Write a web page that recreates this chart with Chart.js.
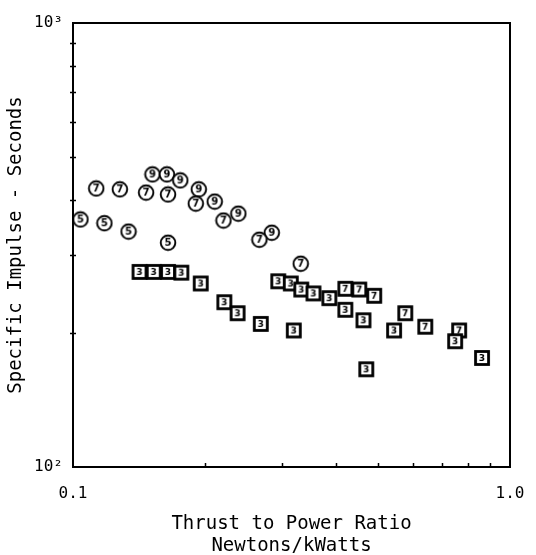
<!DOCTYPE html>
<html>
<head>
<meta charset="utf-8">
<script src="https://cdn.jsdelivr.net/npm/chart.js@4.4.0/dist/chart.umd.min.js"></script>
<style>
html, body { margin: 0; padding: 0; background: #fff; }
</style>
</head>
<body>
<canvas id="myChart" width="536" height="555"></canvas>
<script>
// circles marked 5
var c5X = [0.104, 0.118, 0.134, 0.165];
var c5Y = [361, 354, 339, 320];
// circles marked 7
var c7X = [0.113, 0.128, 0.147, 0.165, 0.191, 0.221, 0.267, 0.332];
var c7Y = [424, 422, 415, 411, 392, 359, 325, 287];
// circles marked 9
var c9X = [0.152, 0.164, 0.176, 0.194, 0.211, 0.239, 0.285];
var c9Y = [456, 456, 442, 422, 396, 372, 337];
// squares marked 3
var s3X = [0.142, 0.153, 0.165, 0.177, 0.196, 0.222, 0.238, 0.269, 0.320, 0.295, 0.315, 0.333, 0.355, 0.386, 0.420, 0.462, 0.469, 0.543, 0.749, 0.863];
var s3Y = [275, 275, 275, 274, 259, 235, 222, 210, 203, 262, 259, 251, 246, 240, 226, 214, 166, 203, 192, 176];
// squares marked 7
var s7X = [0.420, 0.452, 0.489, 0.576, 0.640, 0.765];
var s7Y = [252, 251, 243, 222, 207, 203];

var xTickValues = [0.1, 1];
var xTickLabels = ['0.1', '1.0'];
var yTickValues = [100, 1000];
var yTickLabels = ['10\u00b2', '10\u00b3'];
var xMinorTicks = [0.2, 0.3, 0.4, 0.5, 0.6, 0.7, 0.8, 0.9];
var yMinorTicks = [200, 300, 400, 500, 600, 700, 800, 900];

var FONT = '"DejaVu Sans Mono", monospace';

function makeMarker(shape, label) {
	var c = document.createElement('canvas');
	c.width = 18;
	c.height = 18;
	var g = c.getContext('2d');
	g.fillStyle = '#fff';
	g.strokeStyle = '#000';
	if (shape === 'circle') {
		g.lineWidth = 1.9;
		g.beginPath();
		g.arc(9, 9, 7.3, 0, 2 * Math.PI);
		g.fill();
		g.stroke();
		g.font = 'bold 10px "DejaVu Sans"';
	} else {
		g.lineWidth = 2.8;
		g.fillRect(2.5, 2.5, 13, 13);
		g.strokeRect(2.5, 2.5, 13, 13);
		g.font = 'bold 9px "DejaVu Sans"';
	}
	g.fillStyle = '#000';
	g.textAlign = 'center';
	g.textBaseline = 'middle';
	g.fillText(label, 9, 9.5);
	return c;
}

function toPoints(xs, ys) {
	return xs.map(function(x, i) { return { x: x, y: ys[i] }; });
}

function series(name, xs, ys, marker) {
	return {
		label: name,
		data: toPoints(xs, ys),
		pointStyle: marker,
		pointRadius: 8,
		showLine: false
	};
}

var frame = {
	id: 'frame',
	afterDraw: function(chart) {
		var ctx = chart.ctx;
		var a = chart.chartArea;
		var xs = chart.scales.x, ys = chart.scales.y;
		ctx.save();
		ctx.strokeStyle = '#000';
		ctx.lineWidth = 2;
		ctx.strokeRect(a.left, a.top, a.right - a.left, a.bottom - a.top);
		ctx.lineWidth = 1.5;
		ctx.beginPath();
		yMinorTicks.forEach(function(v) {
			var py = Math.round(ys.getPixelForValue(v)) + 0.5;
			ctx.moveTo(a.left - 3, py);
			ctx.lineTo(a.left + 3, py);
		});
		xMinorTicks.forEach(function(v) {
			var px = Math.round(xs.getPixelForValue(v)) + 0.5;
			ctx.moveTo(px, a.bottom + 1);
			ctx.lineTo(px, a.bottom - 4);
		});
		ctx.stroke();
		ctx.restore();
	}
};

var ctx = document.getElementById('myChart').getContext('2d');
var myChart = new Chart(ctx, {
	type: 'scatter',
	data: {
		datasets: [
			series('5', c5X, c5Y, makeMarker('circle', '5')),
			series('7', c7X, c7Y, makeMarker('circle', '7')),
			series('9', c9X, c9Y, makeMarker('circle', '9')),
			series('3', s3X, s3Y, makeMarker('square', '3')),
			series('7 sq', s7X, s7Y, makeMarker('square', '7'))
		]
	},
	options: {
		responsive: false,
		animation: false,
		devicePixelRatio: 1,
		layout: { padding: { top: 23, right: 26, left: 0, bottom: 0 } },
		plugins: {
			legend: { display: false },
			tooltip: { enabled: false }
		},
		scales: {
			x: {
				type: 'logarithmic',
				min: 0.1,
				max: 1,
				grid: { display: false, drawTicks: false },
				border: { display: false },
				afterBuildTicks: function(s) {
					s.ticks = xTickValues.map(function(v) { return { value: v }; });
				},
				afterFit: function(s) {
					s.height = 88;
					s.paddingLeft = 0;
					s.paddingRight = 0;
				},
				ticks: {
					autoSkip: false,
					maxRotation: 0,
					padding: 17,
					color: '#000',
					font: { family: FONT, size: 16 },
					callback: function(v, i) { return xTickLabels[i]; }
				},
				title: {
					display: true,
					text: ['Thrust to Power Ratio', 'Newtons/kWatts'],
					color: '#000',
					padding: { top: 0, bottom: -2 },
					font: { family: FONT, size: 19, lineHeight: 1.15 }
				}
			},
			y: {
				type: 'logarithmic',
				min: 100,
				max: 1000,
				grid: { display: false, drawTicks: false },
				border: { display: false },
				afterBuildTicks: function(s) {
					s.ticks = yTickValues.map(function(v) { return { value: v }; });
				},
				afterFit: function(s) {
					s.width = 73;
					s.paddingTop = 0;
					s.paddingBottom = 0;
				},
				ticks: {
					autoSkip: false,
					padding: 10,
					color: '#000',
					font: { family: FONT, size: 16 },
					callback: function(v, i) { return yTickLabels[i]; }
				},
				title: {
					display: true,
					text: 'Specific Impulse - Seconds',
					color: '#000',
					padding: { top: 5, bottom: 0 },
					font: { family: FONT, size: 19, lineHeight: 1.15 }
				}
			}
		}
	},
	plugins: [frame]
});
</script>
</body>
</html>
